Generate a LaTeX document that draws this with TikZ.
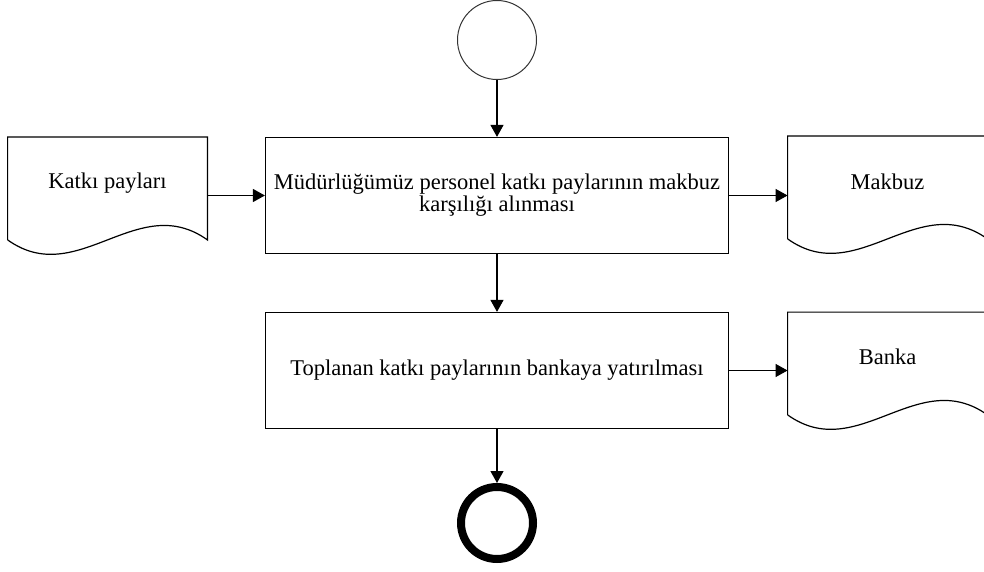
\documentclass[tikz,border=0pt]{standalone}
\usepackage{fontspec}
\setmainfont{Liberation Serif}
\usetikzlibrary{arrows.meta}

\begin{document}
\begin{tikzpicture}
        [x=0.5pt, y=-0.5pt,
        font=\fontsize{11.25}{11}\selectfont,
        process/.style={rectangle, draw, line width=0.6pt, minimum width=231.5pt, minimum height=58pt, align=center, inner sep=0pt},
        doc/.style={rectangle, minimum width=99.5pt, minimum height=51pt, inner sep=0pt},
        docline/.style={black, line width=0.6pt},
        start/.style={circle, draw=black!80, line width=0.5pt, minimum size=39.5pt, inner sep=0pt},
        stop/.style={circle, draw, line width=4pt, minimum size=36pt, inner sep=0pt},
        edge/.style={black, line width=0.6pt, -{Triangle[length=6pt, width=6.5pt]}}]

        \useasboundingbox (0,0) rectangle (984,572);
        \clip (0,0) rectangle (984,572);

        \node[start] (basla) at (497,40) {};
        \node[process] (alim) at (497,195.5) {Müdürlüğümüz personel katkı paylarının makbuz\\karşılığı alınması};
        \node[process] (yatirma) at (497,370.5) {Toplanan katkı paylarının bankaya yatırılması};
        \node[stop] (bitis) at (497,523) {};

        % documents: text sits a bit above the middle
        \node[doc, label={[anchor=center, yshift=2.75pt]center:Katkı payları}] (katki) at (107.5,188.5) {};
        \node[doc, label={[anchor=center, yshift=2.75pt]center:Makbuz}] (makbuz) at (887.5,187.5) {};
        \node[doc, label={[anchor=center, yshift=3.5pt]center:Banka}] (banka) at (887.5,363.5) {};

        % --- Document outlines with wavy bottom ---
        \draw[docline] (katki.south west) -- (katki.north west) -- (katki.north east) -- (katki.south east)
            .. controls +(-70,-50) and +(70,50) .. (katki.south west);
        \draw[docline] (makbuz.south west) -- (makbuz.north west) -- (makbuz.north east) -- (makbuz.south east)
            .. controls +(-70,-50) and +(70,50) .. (makbuz.south west);
        \draw[docline] (banka.south west) -- (banka.north west) -- (banka.north east) -- (banka.south east)
            .. controls +(-70,-50) and +(70,50) .. (banka.south west);

        \draw[edge] (basla) -- (alim);
        \draw[edge] (alim) -- (yatirma);
        \draw[edge] (yatirma) -- (bitis);
        \draw[edge] (katki.east |- alim.west) -- (alim.west);
        \draw[edge] (alim.east) -- (makbuz.west |- alim.east);
        \draw[edge] (yatirma.east) -- (banka.west |- yatirma.east);
    \end{tikzpicture}
\end{document}
